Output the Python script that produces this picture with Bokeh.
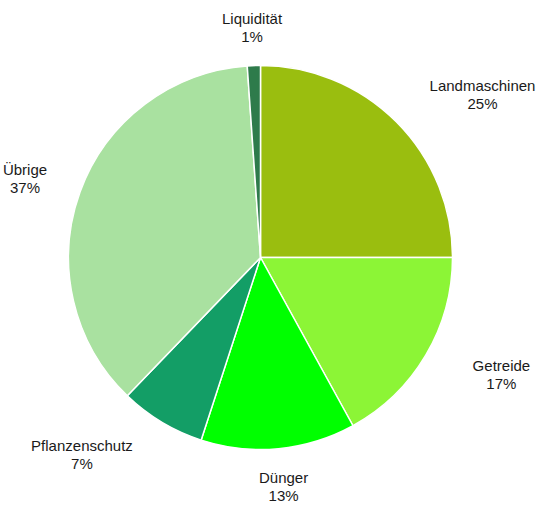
import math
from bokeh.plotting import figure
from bokeh.models import ColumnDataSource, Range1d
from bokeh.core.properties import value
from bokeh.embed import file_html
from bokeh.resources import INLINE

# ---- data ----
categories = ["Landmaschinen", "Getreide", "Dünger", "Pflanzenschutz", "Übrige", "Liquidität"]
shares = [25.0, 17.0, 13.0, 7.2, 36.7, 1.1]
colors = ["#9abe0f", "#8cf536", "#00ff00", "#139e66", "#a9e1a0", "#2e7b4b"]

# ---- layout (data units = pixels, y measured upward) ----
W, H = 548, 509
cx, cy = 260, H - 257
radius = 192
label_rx, label_ry = 245, 230
font_px = 15
line_px = 18

total = sum(shares)
starts, ends, mids = [], [], []
acc = 0.0
for s in shares:
    f0 = acc / total
    acc += s
    f1 = acc / total
    starts.append(math.pi / 2 - 2 * math.pi * f0)
    ends.append(math.pi / 2 - 2 * math.pi * f1)
    mids.append(2 * math.pi * (f0 + f1) / 2)  # clockwise from top

src = ColumnDataSource(dict(cat=categories, start=starts, end=ends, color=colors))

p = figure(width=W, height=H, output_backend="svg", toolbar_location=None,
           x_range=Range1d(0, W), y_range=Range1d(0, H), min_border=0)
p.axis.visible = False
p.grid.visible = False
p.outline_line_color = None
p.background_fill_color = "white"

p.wedge(x=cx, y=cy, radius=radius, start_angle="start", end_angle="end",
        direction="clock", fill_color="color", line_color="white", line_width=1.5,
        source=src)

lx, ly, lt = [], [], []
for c, s, th in zip(categories, shares, mids):
    sn, cs = math.sin(th), math.cos(th)
    txt = f"{c}\n{round(s / total * 100):.0f}%"
    w = 0.5 * font_px * max(len(t) for t in txt.split("\n"))
    h = 2 * line_px
    x = cx + label_rx * sn
    if abs(sn) >= 0.3:
        x += math.copysign(w / 2, sn)
    y = cy + label_ry * cs
    x = min(max(x, w / 2 + 2), W - w / 2 - 2)
    y = min(max(y, h / 2 + 2), H - h / 2 - 2)
    lx.append(x)
    ly.append(y)
    lt.append(txt)

lsrc = ColumnDataSource(dict(x=lx, y=ly, t=lt))
p.text(x="x", y="y", text="t", source=lsrc, text_align="center", text_baseline="middle",
       text_font=value("Liberation Sans"), text_font_size=f"{font_px}px", text_color="#1a1a1a",
       text_line_height=1.05)

open("out.html", "w").write(file_html(p, INLINE))
